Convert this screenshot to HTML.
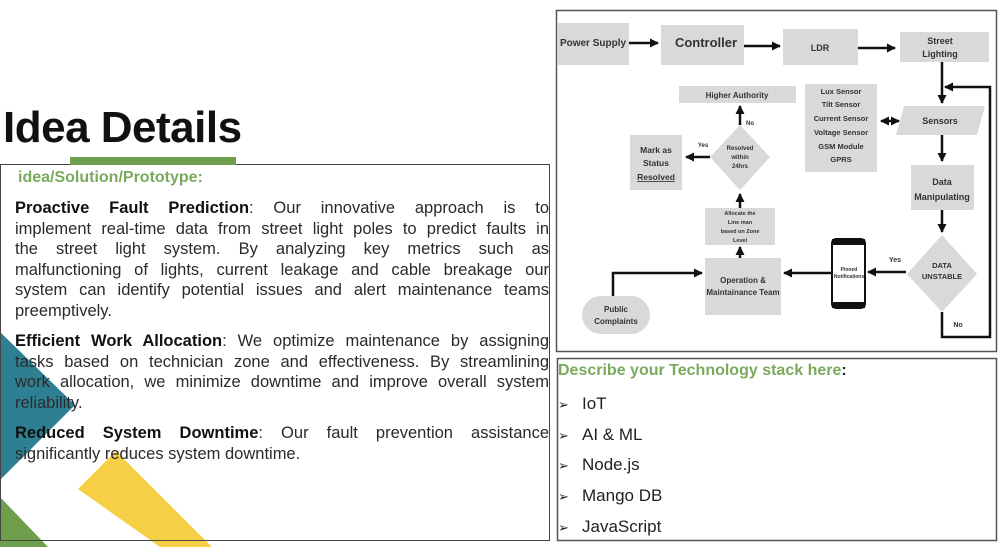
<!DOCTYPE html>
<html><head><meta charset="utf-8">
<style>
*{margin:0;padding:0;box-sizing:border-box}
body{width:999px;height:547px;overflow:hidden;background:#fff;font-family:"Liberation Sans",sans-serif;position:relative;color:#222}
.abs{position:absolute}
.ln{position:absolute;left:15px;width:534px;font-size:16.5px;letter-spacing:0px;line-height:20px;white-space:nowrap;color:#2a2a2a}
.j{text-align:justify;text-align-last:justify}
b{color:#111}
.ti{position:absolute;left:558px;font-size:17px;color:#222}
.ti span{display:inline-block;width:24px;font-size:13px}
</style></head><body>
<svg class="abs" style="left:0;top:0" width="999" height="547">
<polygon points="0,332 75,405 0,480" fill="#2f7f93"/>
<polygon points="78,489 116,451 212,547 160,547" fill="#f7cf45"/>
<polygon points="0,497 48,547 0,547" fill="#6f9e4c"/>
<rect x="0.5" y="164.5" width="549" height="376" fill="none" stroke="#444" stroke-width="1"/>
<rect x="70" y="157" width="166" height="8" fill="#6f9e4c"/>
<rect x="556.5" y="10.5" width="440" height="341" fill="none" stroke="#555" stroke-width="1.5"/>
<rect x="557.5" y="358.5" width="439" height="182" fill="none" stroke="#555" stroke-width="1.5"/>
<defs>
<marker id="a" markerUnits="userSpaceOnUse" markerWidth="10" markerHeight="10" refX="8" refY="5" orient="auto"><path d="M0,0.5 L9,5 L0,9.5 Z" fill="#111"/></marker>
<marker id="b" markerUnits="userSpaceOnUse" markerWidth="10" markerHeight="10" refX="2" refY="5" orient="auto"><path d="M10,0.5 L1,5 L10,9.5 Z" fill="#111"/></marker>
</defs>
<g fill="#d9d9d9">
<rect x="558" y="23" width="71" height="42"/>
<rect x="661" y="25" width="83" height="40"/>
<rect x="783" y="29" width="75" height="36"/>
<rect x="900" y="32" width="89" height="30"/>
<polygon points="904,106 985,106 977,135 896,135"/>
<rect x="805" y="84" width="72" height="88"/>
<rect x="911" y="165" width="63" height="45"/>
<polygon points="942,235 977,274 942,312 907,274"/>
<rect x="705" y="258" width="76" height="57"/>
<rect x="582" y="296" width="68" height="38" rx="19"/>
<rect x="705" y="208" width="70" height="37"/>
<polygon points="740,125 770,157 740,190 710,157"/>
<rect x="679" y="86" width="117" height="17"/>
<rect x="630" y="135" width="52" height="55"/>
</g>
<rect x="832" y="239" width="33" height="69" rx="4" fill="#fff" stroke="#111" stroke-width="2"/>
<rect x="832" y="239" width="33" height="6" fill="#111"/><rect x="832" y="302" width="33" height="6" fill="#111"/>
<g stroke="#111" stroke-width="2.5" fill="none" marker-end="url(#a)">
<line x1="629" y1="43" x2="658" y2="43"/>
<line x1="744" y1="46" x2="780" y2="46"/>
<line x1="858" y1="48" x2="895" y2="48"/>
<line x1="942" y1="62" x2="942" y2="103"/>
<line x1="942" y1="135" x2="942" y2="161"/>
<line x1="942" y1="210" x2="942" y2="232"/>
<line x1="906" y1="272" x2="868" y2="272"/>
<line x1="831" y1="273" x2="784" y2="273"/>
<polyline points="613,296 613,273 702,273"/>
<line x1="740" y1="258" x2="740" y2="247"/>
<line x1="740" y1="208" x2="740" y2="194"/>
<line x1="740" y1="125" x2="740" y2="106"/>
<line x1="710" y1="157" x2="686" y2="157"/>
<polyline points="942,312 942,337 990,337 990,87 945,87"/>
<line x1="881" y1="121" x2="899" y2="121" marker-start="url(#b)"/>
</g>
<g font-family="Liberation Sans,sans-serif" font-weight="bold" fill="#333" text-anchor="middle">
<text x="593" y="46" font-size="10">Power Supply</text>
<text x="706" y="47" font-size="13">Controller</text>
<text x="820" y="51" font-size="9">LDR</text>
<text x="940" y="44" font-size="9">Street</text><text x="940" y="57" font-size="9">Lighting</text>
<text x="940" y="124" font-size="9">Sensors</text>
<g font-size="7.5"><text x="841" y="94">Lux Sensor</text><text x="841" y="107">Tilt Sensor</text><text x="841" y="121">Current Sensor</text><text x="841" y="135">Voltage Sensor</text><text x="841" y="149">GSM Module</text><text x="841" y="162">GPRS</text></g>
<text x="942" y="185" font-size="9">Data</text><text x="942" y="200" font-size="9">Manipulating</text>
<text x="942" y="268" font-size="7.5">DATA</text><text x="942" y="279" font-size="7.5">UNSTABLE</text>
<text x="958" y="327" font-size="7">No</text>
<text x="895" y="262" font-size="7">Yes</text>
<text x="849" y="271" font-size="5">Pinned</text><text x="849" y="278" font-size="5">Notifications</text>
<text x="743" y="283" font-size="8">Operation &amp;</text><text x="743" y="295" font-size="8">Maintainance Team</text>
<text x="616" y="312" font-size="8">Public</text><text x="616" y="324" font-size="8">Complaints</text>
<g font-size="5.5"><text x="740" y="215">Allocate the</text><text x="740" y="224">Line man</text><text x="740" y="233">based on Zone</text><text x="740" y="242">Level</text></g>
<g font-size="6"><text x="740" y="150">Resolved</text><text x="740" y="159">within</text><text x="740" y="168">24hrs</text></g>
<text x="750" y="125" font-size="6">No</text>
<text x="703" y="147" font-size="6">Yes</text>
<text x="737" y="98" font-size="8">Higher Authority</text>
<text x="656" y="153" font-size="8.5">Mark as</text><text x="656" y="166" font-size="8.5">Status</text><text x="656" y="180" font-size="8.5" text-decoration="underline">Resolved</text>
</g>
</svg>
<div class="abs" style="left:3px;top:103px;font-size:44px;font-weight:bold;color:#111;letter-spacing:-0.5px">Idea Details</div>
<div class="abs" style="left:18px;top:169px;font-size:16px;font-weight:bold;color:#7aaa5c">idea/Solution/Prototype:</div>
<div class="ln j" style="top:198px"><b>Proactive Fault Prediction</b>: Our innovative approach is to</div>
<div class="ln j" style="top:219px">implement real-time data from street light poles to predict faults in</div>
<div class="ln j" style="top:239px">the street light system. By analyzing key metrics such as</div>
<div class="ln j" style="top:260px">malfunctioning of lights, current leakage and cable breakage our</div>
<div class="ln j" style="top:280px">system can identify potential issues and alert maintenance teams</div>
<div class="ln" style="top:301px">preemptively.</div>
<div class="ln j" style="top:331px"><b>Efficient Work Allocation</b>: We optimize maintenance by assigning</div>
<div class="ln j" style="top:352px">tasks based on technician zone and effectiveness. By streamlining</div>
<div class="ln j" style="top:372px">work allocation, we minimize downtime and improve overall system</div>
<div class="ln" style="top:393px">reliability.</div>
<div class="ln j" style="top:423px"><b>Reduced System Downtime</b>: Our fault prevention assistance</div>
<div class="ln" style="top:444px">significantly reduces system downtime.</div>
<div class="abs" style="left:558px;top:362px;font-size:16px;font-weight:bold;color:#7aaa5c">Describe your Technology stack here<span style="color:#222">:</span></div>
<div class="ti" style="top:394px"><span>➢</span>IoT</div>
<div class="ti" style="top:425px"><span>➢</span>AI &amp; ML</div>
<div class="ti" style="top:455px"><span>➢</span>Node.js</div>
<div class="ti" style="top:486px"><span>➢</span>Mango DB</div>
<div class="ti" style="top:517px"><span>➢</span>JavaScript</div>
</body></html>
